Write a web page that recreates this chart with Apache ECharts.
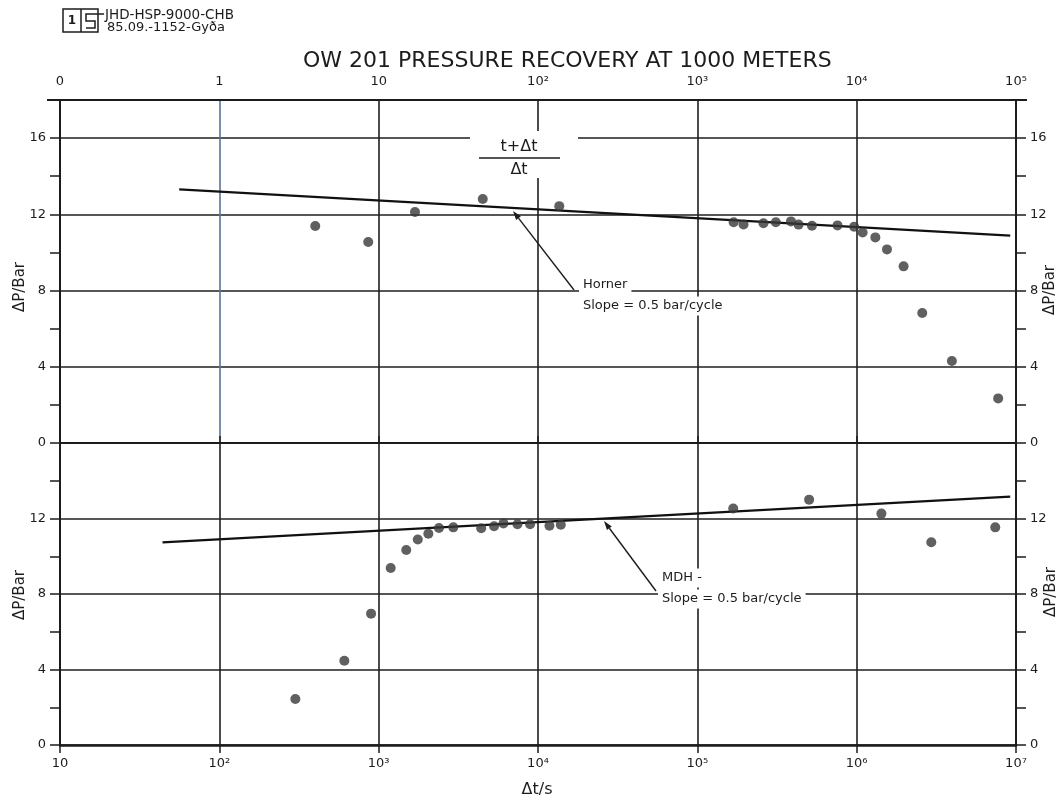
<!DOCTYPE html>
<html>
<head>
<meta charset="utf-8">
<script src="https://cdn.jsdelivr.net/npm/echarts@6/dist/echarts.min.js"></script>
<style>
html, body { margin: 0; padding: 0; background: #fff; }
#chart { width: 1063px; height: 802px; }
</style>
</head>
<body>
<div id="chart"></div>
<script>
// Horner plot: pressure rise against (t+Δt)/Δt
const hornerRatio = [4.0, 8.6, 16.9, 45, 136, 1690, 1950, 2600, 3110, 3870, 4320, 5240, 7580, 9640, 10900, 13100, 15500, 19700, 25800, 39600, 77300];
const hornerDP = [11.39, 10.55, 12.12, 12.80, 12.43, 11.58, 11.47, 11.53, 11.58, 11.63, 11.46, 11.40, 11.42, 11.35, 11.05, 10.79, 10.16, 9.27, 6.82, 4.30, 2.34];

// MDH plot: pressure rise against shut-in time Δt in seconds
const mdhTime = [300, 609, 896, 1190, 1490, 1760, 2050, 2390, 2940, 4400, 5300, 6070, 7430, 8920, 11800, 13900, 168000, 503000, 1430000, 2940000, 7410000];
const mdhDP = [2.44, 4.46, 6.96, 9.38, 10.33, 10.89, 11.19, 11.50, 11.53, 11.49, 11.59, 11.74, 11.70, 11.70, 11.62, 11.67, 12.53, 13.00, 12.26, 10.74, 11.53];

// fitted straight lines (0.5 bar/cycle)
const hornerLineRatio = [0.56, 92000];
const hornerLineDP = [13.31, 10.88];
const mdhLineTime = [44, 9200000];
const mdhLineDP = [10.74, 13.16];

// tick labels of the two logarithmic axes
const ratioTickLabels = ['0', '1', '10', '10²', '10³', '10⁴', '10⁵'];
const timeTickLabels = ['10', '10²', '10³', '10⁴', '10⁵', '10⁶', '10⁷'];

const FONT = 'DejaVu Sans';
const INK = '#1c1c1c';
const GRID_INK = '#1f1f1f';

const zip = (xs, ys) => xs.map((x, i) => [x, ys[i]]);

function valueAxis(gridIndex, position, max, labelMax) {
  return {
    type: 'value', gridIndex, position, min: 0, max, interval: 2,
    axisLine: { show: true, lineStyle: { color: INK, width: 2 } },
    axisTick: { show: true, inside: false, length: 10, lineStyle: { color: INK, width: 1.5 } },
    axisLabel: {
      margin: 14, color: INK, fontFamily: FONT, fontSize: 13,
      showMinLabel: true, showMaxLabel: true,
      formatter: v => (v % 4 === 0 && v <= labelMax) ? String(v) : ''
    },
    splitLine: { show: false }
  };
}

function gridLineAxis(gridIndex, max) {
  return {
    type: 'value', gridIndex, position: 'left', min: 0, max, interval: 4,
    axisLine: { show: false }, axisTick: { show: false }, axisLabel: { show: false },
    splitLine: { show: true, lineStyle: { color: GRID_INK, width: 1.7 } }
  };
}

function arrow(tail, tip) {
  const dx = tip[0] - tail[0], dy = tip[1] - tail[1];
  const len = Math.hypot(dx, dy), ux = dx / len, uy = dy / len;
  const hl = 9, hw = 3;
  const bx = tip[0] - ux * hl, by = tip[1] - uy * hl;
  return [
    { type: 'line', z: 10, shape: { x1: tail[0], y1: tail[1], x2: bx, y2: by },
      style: { stroke: INK, lineWidth: 1.4 } },
    { type: 'polygon', z: 10,
      shape: { points: [tip, [bx - uy * hw, by + ux * hw], [bx + uy * hw, by - ux * hw]] },
      style: { fill: INK } }
  ];
}

function note(text, x, y, size) {
  return {
    type: 'text', z: 8, x, y,
    style: {
      text, fill: INK, font: `${size || 13}px "${FONT}"`,
      align: 'left', verticalAlign: 'middle',
      backgroundColor: '#fff', padding: [3, 4, 3, 4]
    }
  };
}

function sideName(x, y) {
  return {
    type: 'text', z: 8, x, y, rotation: Math.PI / 2,
    style: { text: 'ΔP/Bar', fill: INK, font: `15px "${FONT}"`, align: 'center', verticalAlign: 'middle' }
  };
}

const chart = echarts.init(document.getElementById('chart'), null, { renderer: 'canvas' });

chart.setOption({
  backgroundColor: '#fff',
  animation: false,
  title: {
    text: 'OW 201 PRESSURE RECOVERY AT 1000 METERS',
    left: 298, top: 45,
    textStyle: { fontFamily: FONT, fontSize: 22, fontWeight: 'normal', color: INK }
  },
  grid: [
    { left: 60, top: 100, width: 956, height: 343 },
    { left: 60, top: 443, width: 956, height: 302 }
  ],
  xAxis: [
    {
      type: 'log', logBase: 10, gridIndex: 0, position: 'top', min: 0.1, max: 100000,
      axisLine: { show: true, lineStyle: { color: INK, width: 2 } },
      axisTick: { show: true, length: 7, lineStyle: { color: INK, width: 1.5 } },
      minorTick: { show: false },
      axisLabel: {
        margin: 12, color: INK, fontFamily: FONT, fontSize: 13,
        formatter: v => ratioTickLabels[Math.round(Math.log10(v)) + 1] || ''
      },
      splitLine: {
        show: true,
        lineStyle: { color: [GRID_INK, '#5b7396', GRID_INK, GRID_INK, GRID_INK, GRID_INK, GRID_INK], width: 1.6 }
      }
    },
    {
      type: 'log', logBase: 10, gridIndex: 1, position: 'bottom', min: 10, max: 10000000,
      axisLine: { show: true, lineStyle: { color: INK, width: 2.5 } },
      axisTick: { show: true, length: 8, lineStyle: { color: INK, width: 1.5 } },
      minorTick: { show: false },
      axisLabel: {
        margin: 12, color: INK, fontFamily: FONT, fontSize: 13,
        formatter: v => timeTickLabels[Math.round(Math.log10(v)) - 1] || ''
      },
      splitLine: { show: true, lineStyle: { color: GRID_INK, width: 1.6 } }
    }
  ],
  yAxis: [
    valueAxis(0, 'left', 18, 16),
    valueAxis(0, 'right', 18, 16),
    gridLineAxis(0, 18),
    valueAxis(1, 'left', 16, 12),
    valueAxis(1, 'right', 16, 12),
    gridLineAxis(1, 16)
  ],
  series: [
    {
      name: 'Horner fit', type: 'line', xAxisIndex: 0, yAxisIndex: 0,
      data: zip(hornerLineRatio, hornerLineDP), symbol: 'none', z: 3,
      lineStyle: { color: '#111', width: 2.2 }
    },
    {
      name: 'Horner', type: 'scatter', xAxisIndex: 0, yAxisIndex: 0,
      data: zip(hornerRatio, hornerDP), symbol: 'circle', symbolSize: 10, z: 4,
      itemStyle: { color: '#383838' }
    },
    {
      name: 'MDH fit', type: 'line', xAxisIndex: 1, yAxisIndex: 3,
      data: zip(mdhLineTime, mdhLineDP), symbol: 'none', z: 3,
      lineStyle: { color: '#111', width: 2.2 }
    },
    {
      name: 'MDH', type: 'scatter', xAxisIndex: 1, yAxisIndex: 3,
      data: zip(mdhTime, mdhDP), symbol: 'circle', symbolSize: 10, z: 4,
      itemStyle: { color: '#383838' }
    }
  ],
  graphic: [
    // drawing-office stamp
    { type: 'rect', z: 8, shape: { x: 63, y: 9, width: 35, height: 23 },
      style: { fill: 'none', stroke: INK, lineWidth: 1.5 } },
    { type: 'line', z: 8, shape: { x1: 81, y1: 9, x2: 81, y2: 32 }, style: { stroke: INK, lineWidth: 1.5 } },
    { type: 'text', z: 8, x: 72, y: 21, style: { text: '1', fill: INK, font: `bold 12px "${FONT}"`, align: 'center', verticalAlign: 'middle' } },
    { type: 'polyline', z: 8, shape: { points: [[104, 14], [86, 14], [86, 21], [95, 21], [95, 28], [86, 28]] },
      style: { stroke: INK, lineWidth: 1.5, fill: 'none' } },
    { type: 'text', z: 8, x: 105, y: 15, style: { text: 'JHD-HSP-9000-CHB', fill: INK, font: `13.5px "${FONT}"`, align: 'left', verticalAlign: 'middle' } },
    { type: 'text', z: 8, x: 107, y: 28, style: { text: '85.09.-1152-Gyða', fill: INK, font: `13px "${FONT}"`, align: 'left', verticalAlign: 'middle' } },

    // top axis line runs a little past both frame edges
    { type: 'line', z: 6, shape: { x1: 47, y1: 100, x2: 1027, y2: 100 }, style: { stroke: INK, lineWidth: 2 } },

    // (t+Δt)/Δt axis caption
    { type: 'rect', z: 7, shape: { x: 470, y: 131, width: 108, height: 47 }, style: { fill: '#fff' } },
    { type: 'text', z: 8, x: 519, y: 147, style: { text: 't+Δt', fill: INK, font: `16px "${FONT}"`, align: 'center', verticalAlign: 'middle' } },
    { type: 'line', z: 8, shape: { x1: 479, y1: 158, x2: 560, y2: 158 }, style: { stroke: INK, lineWidth: 1.5 } },
    { type: 'text', z: 8, x: 519, y: 170, style: { text: 'Δt', fill: INK, font: `16px "${FONT}"`, align: 'center', verticalAlign: 'middle' } },

    // slope notes
    note('Horner', 579, 285),
    note('Slope = 0.5 bar/cycle', 579, 306),
    ...arrow([574, 290], [513, 211]),
    note('MDH -', 658, 578),
    note('Slope = 0.5 bar/cycle', 658, 599),
    ...arrow([656, 591], [604, 521]),

    // axis names
    sideName(20, 287),
    sideName(20, 595),
    sideName(1050, 290),
    sideName(1051, 592),
    { type: 'text', z: 8, x: 537, y: 790, style: { text: 'Δt/s', fill: INK, font: `16px "${FONT}"`, align: 'center', verticalAlign: 'middle' } }
  ]
});
</script>
</body>
</html>
